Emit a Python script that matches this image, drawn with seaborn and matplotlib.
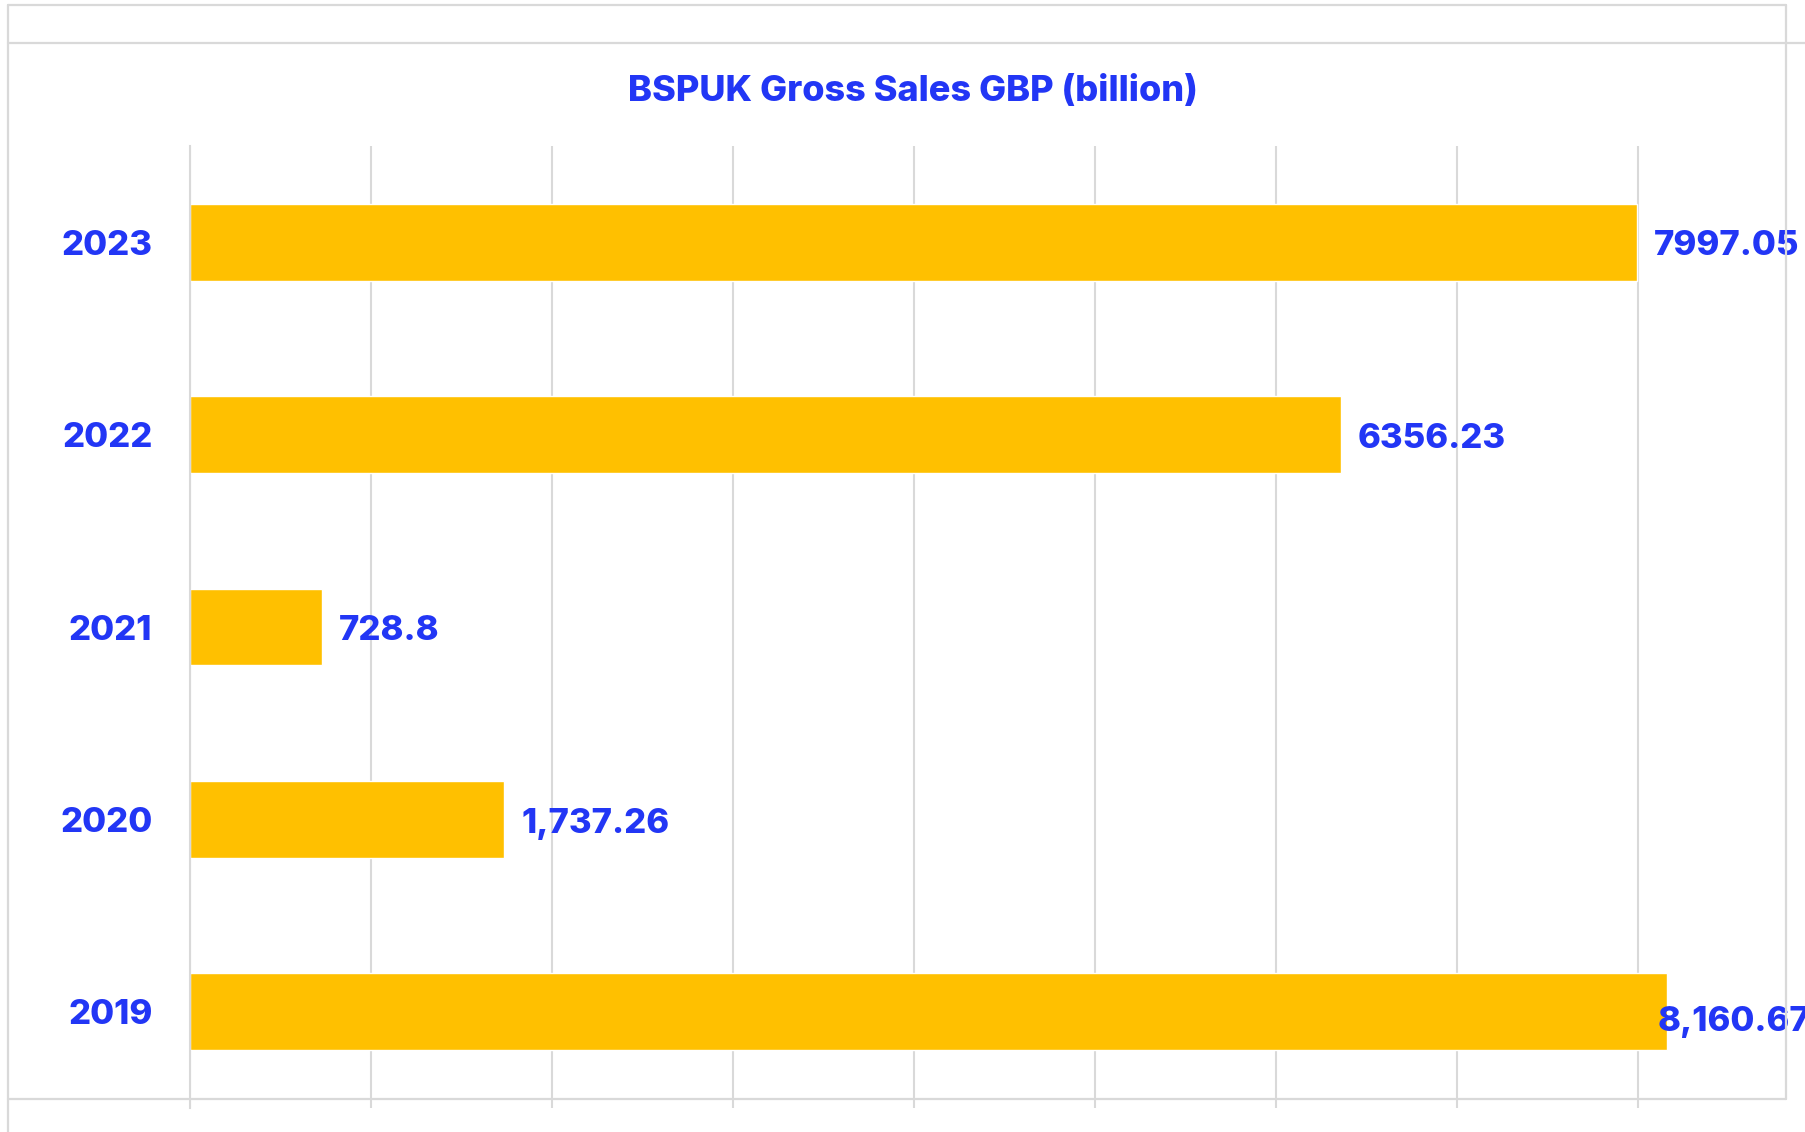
import matplotlib
matplotlib.use('Agg')
import matplotlib.pyplot as plt
import matplotlib.lines as mlines
import pandas as pd
import seaborn as sns

# Data
years = ['2023', '2022', '2021', '2020', '2019']
sales = [7997.05, 6356.23, 728.8, 1737.26, 8160.67]
value_labels = ['7997.05', '6356.23', '728.8', '1,737.26', '8,160.67']
title = 'BSPUK Gross Sales GBP (billion)'

blue = '#2236f5'
gold = '#FFC000'
grey = '#d9d9d9'

sns.set_style('white')
plt.rcParams['font.family'] = ['Inter', 'DejaVu Sans']

df = pd.DataFrame({'Year': years, 'Sales': sales})

W, H = 1805, 1132
fig = plt.figure(figsize=(W / 100, H / 100), dpi=100)
ax = fig.add_axes([190 / W, 1 - 1108 / H, 1597 / W, 962 / H])

sns.barplot(data=df, y='Year', x='Sales', order=years, color=gold,
            width=0.4, saturation=1, ax=ax)

ax.set_xlim(0, 8823)
ax.set_ylim(4.5, -0.5)
ax.set_xticks(range(0, 8001, 1000))
ax.set_xticklabels([])
ax.tick_params(axis='x', length=0)
ax.grid(axis='x', color=grey, linewidth=1.5)
ax.set_axisbelow(True)

ax.set_yticks(range(len(years)))
ax.set_yticklabels(years, color=blue, fontsize=25, fontweight='heavy')
ax.set_yticks([i - 0.5 for i in range(len(years) + 1)], minor=True)
ax.tick_params(axis='y', which='major', length=0, pad=27)
ax.tick_params(axis='y', which='minor', length=9, width=1.5, color=grey)
ax.set_xlabel('')
ax.set_ylabel('')

for s in ['top', 'right', 'bottom']:
    ax.spines[s].set_visible(False)
ax.spines['left'].set_color(grey)
ax.spines['left'].set_linewidth(1.5)

# value labels
offsets = [(12, -3), (12, -3), (12, -3), (12, -3), (-7, -7)]
for i, (v, lab) in enumerate(zip(sales, value_labels)):
    ax.annotate(lab, (v, i), xytext=offsets[i], textcoords='offset points',
                ha='left', va='center', color=blue, fontsize=25,
                fontweight='heavy', annotation_clip=False, zorder=5)

fig.text(913 / W, 1 - 92 / H, title, ha='center', va='center',
         color=blue, fontsize=26, fontweight='heavy')

# outer frame lines
def fline(x0, y0, x1, y1):
    fig.add_artist(mlines.Line2D([x0 / W, x1 / W], [1 - y0 / H, 1 - y1 / H],
                                 color=grey, linewidth=1.6,
                                 transform=fig.transFigure))

fline(8, 5, 1786, 5)
fline(8, 43, 1805, 43)
fline(8, 5, 8, 1132)
fline(1786, 5, 1786, 1099)
fline(8, 1099, 1786, 1099)

fig.savefig('out.png', dpi=100)
